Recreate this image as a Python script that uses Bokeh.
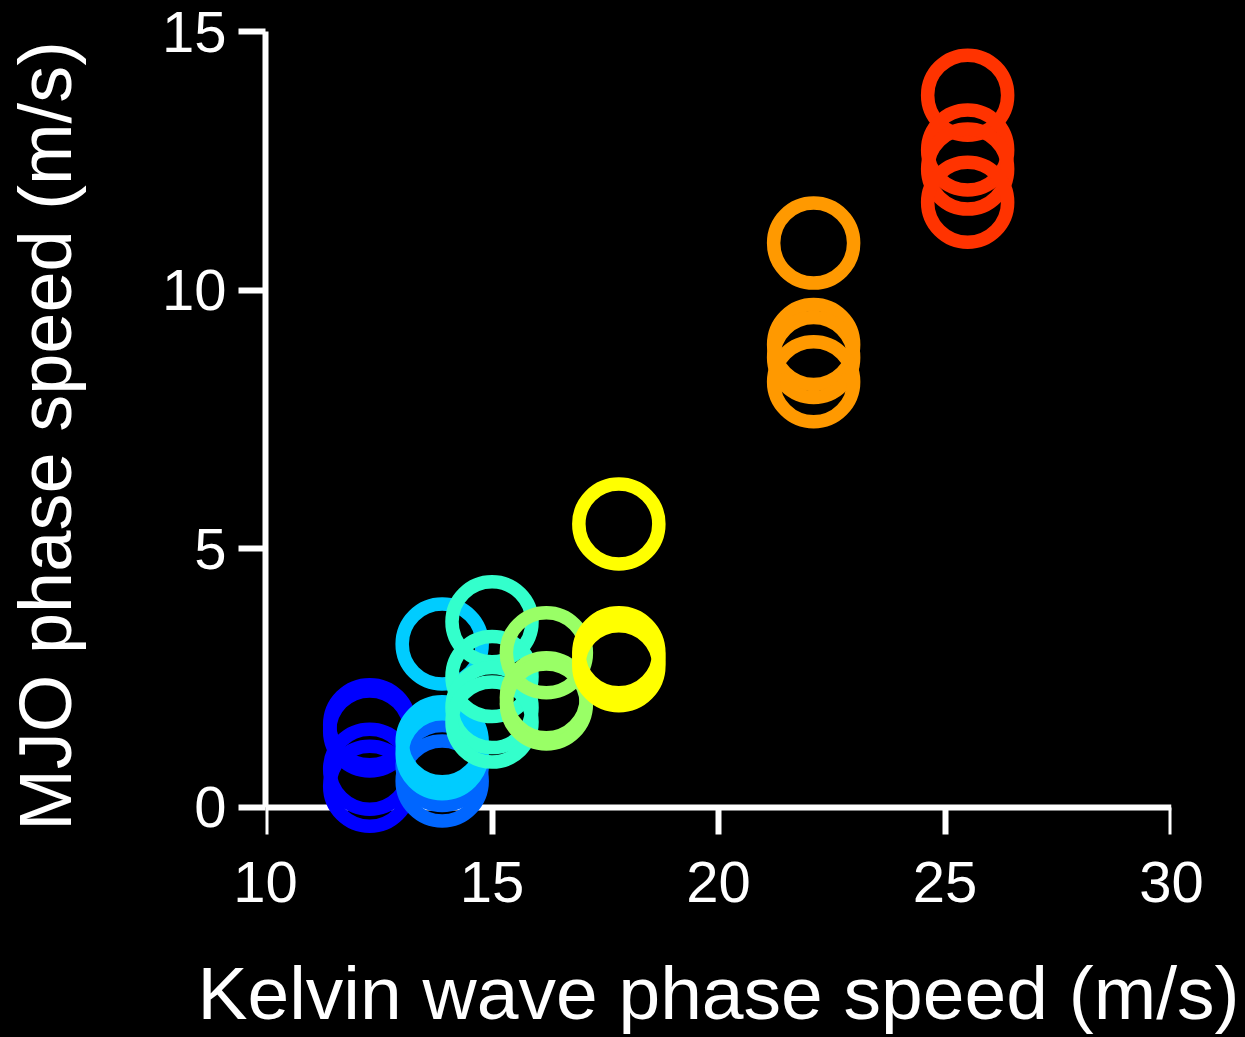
from bokeh.plotting import figure
from bokeh.models import Range1d, FixedTicker, ColumnDataSource, LinearAxis
from bokeh.embed import file_html
from bokeh.resources import INLINE

# Kelvin wave phase speed of each experiment group (m/s) and its colour
group_kelvin = [12.3, 13.9, 13.9, 15.0, 16.2, 17.8, 22.1, 25.5]
group_colors = ["#0000FF", "#0066FF", "#00CCFF", "#33FFCC",
                "#99FF66", "#FFFF00", "#FF9900", "#FF3300"]

# MJO phase speeds of the members of each group (m/s)
mjo_dark_blue = [1.60, 1.48, 0.74, 0.41]
mjo_blue = [0.81, 0.51]
mjo_light_blue = [3.16, 1.27, 1.04]
mjo_cyan = [3.59, 2.53, 1.93, 1.65]
mjo_green = [2.99, 2.12, 2.00]
mjo_yellow = [5.48, 2.99, 2.87, 2.74]
mjo_orange = [10.91, 8.95, 8.70, 8.23]
mjo_red = [13.77, 12.71, 12.34, 11.70]

x_ticks = [10, 15, 20, 25, 30]
y_ticks = [0, 5, 10, 15]

group_mjo = [mjo_dark_blue, mjo_blue, mjo_light_blue, mjo_cyan,
             mjo_green, mjo_yellow, mjo_orange, mjo_red]

xs, ys, cs = [], [], []
for kx, col, members in zip(group_kelvin, group_colors, group_mjo):
    for my in members:
        xs.append(kx)
        ys.append(my)
        cs.append(col)
source = ColumnDataSource(data=dict(x=xs, y=ys, color=cs))

FONT = "Liberation Sans"

p = figure(
    width=1245, height=1037,
    x_range=Range1d(10, 30), y_range=Range1d(-0.639, 15),
    output_backend="svg", toolbar_location=None,
    min_border_left=264, min_border_right=74,
    min_border_top=31, min_border_bottom=197,
    background_fill_color="black", border_fill_color="black",
    outline_line_color=None,
)
p.styles = {"background-color": "#000000"}
p.grid.visible = False

# open rings, drawn above the axes
p.scatter("x", "y", source=source, marker="circle", size=80,
          fill_color=None, line_color="color", line_width=13.5,
          level="overlay")

# x-axis line and ticks, crossing at y = 0
x_rule = LinearAxis(fixed_location=0, bounds=(10, 30),
                    ticker=FixedTicker(ticks=x_ticks))
p.add_layout(x_rule, "below")

# bottom axis carries only the tick labels and the title
p.xaxis[0].ticker = FixedTicker(ticks=x_ticks)
p.xaxis[0].axis_line_color = None
p.xaxis[0].major_tick_line_color = None
p.xaxis[0].major_tick_out = 0
p.xaxis[0].major_tick_in = 0

p.yaxis.bounds = (0, 15)
p.yaxis.ticker = FixedTicker(ticks=y_ticks)

for ax in (x_rule, p.yaxis[0]):
    ax.axis_line_color = "white"
    ax.axis_line_width = 6
    ax.major_tick_line_color = "white"
    ax.major_tick_line_width = 6
    ax.major_tick_out = 27
    ax.major_tick_in = 0

x_rule.major_label_text_color = None
x_rule.major_label_text_font_size = "0px"

for ax in (p.xaxis[0], p.yaxis[0], x_rule):
    ax.minor_tick_line_color = None

for ax in (p.xaxis[0], p.yaxis[0]):
    ax.major_label_text_color = "white"
    ax.major_label_text_font = FONT
    ax.major_label_text_font_size = "58px"
    ax.axis_label_text_color = "white"
    ax.axis_label_text_font = FONT
    ax.axis_label_text_font_style = "normal"

p.xaxis[0].axis_label_text_font_size = "75px"
p.yaxis.axis_label_text_font_size = "74px"

p.xaxis[0].major_label_standoff = 21
p.yaxis.major_label_standoff = 12
p.xaxis[0].axis_label = "Kelvin wave phase speed (m/s)"
p.yaxis.axis_label = "MJO phase speed (m/s)"
p.xaxis[0].axis_label_standoff = 46
p.yaxis.axis_label_standoff = 72

page_template = """<!DOCTYPE html>
<html lang="en">
<head>
<meta charset="utf-8">
<title>{{ title }}</title>
<style>html, body { margin: 0; padding: 0; background: #000000; }</style>
{{ bokeh_css }}
{{ bokeh_js }}
</head>
<body>
{{ plot_div }}
{{ plot_script }}
</body>
</html>
"""

open("out.html", "w").write(file_html(p, INLINE, template=page_template))
